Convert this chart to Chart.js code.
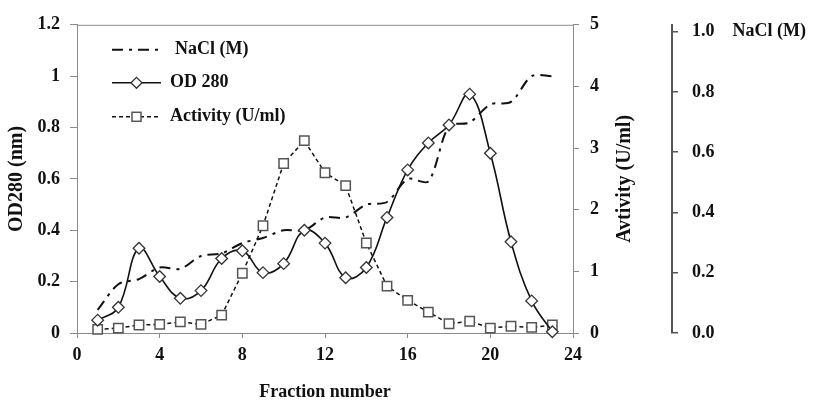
<!DOCTYPE html>
<html>
<head>
<meta charset="utf-8">
<script src="https://cdn.jsdelivr.net/npm/chart.js@4.4.1/dist/chart.umd.min.js"></script>
<style>
  body { margin: 0; background: #fff; }
  #wrap { width: 817px; height: 403px; position: relative; }
</style>
</head>
<body>
<div id="wrap"><canvas id="elutionChart"></canvas></div>
<script>
const fractions = [1, 2, 3, 4, 5, 6, 7, 8, 9, 10, 11, 12, 13, 14, 15, 16, 17, 18, 19, 20, 21, 22, 23];
const od280 = [0.05, 0.10, 0.33, 0.22, 0.135, 0.165, 0.29, 0.32, 0.235, 0.27, 0.40, 0.35, 0.215, 0.255, 0.45, 0.635, 0.74, 0.81, 0.93, 0.70, 0.355, 0.125, 0.005];
const activity = [0.06, 0.08, 0.13, 0.14, 0.18, 0.14, 0.29, 0.97, 1.74, 2.75, 3.12, 2.6, 2.39, 1.46, 0.76, 0.53, 0.34, 0.15, 0.19, 0.08, 0.11, 0.09, 0.13];
const nacl = [0.09, 0.19, 0.21, 0.255, 0.25, 0.30, 0.31, 0.35, 0.37, 0.40, 0.40, 0.45, 0.45, 0.50, 0.51, 0.60, 0.59, 0.805, 0.82, 0.89, 0.90, 1.0, 1.0];
const naclTicks = [0, 0.2, 0.4, 0.6, 0.8, 1.0];

const legendLabels = ['NaCl (M)', 'OD 280', 'Activity (U/ml)'];
const rightTitle = 'Avtivity (U/ml)';

const axisGray = '#8a8a8a';
const textColor = '#111';
const tickFont = { family: 'Liberation Serif', size: 18, weight: 'bold' };
const naclDash = [11, 6, 3, 6];

const toPoints = (vals) => fractions.map((f, i) => ({ x: f, y: vals[i] }));

// legende dans la zone du graphique + titre de droite (lu de bas en haut) + cadre du haut
const innerLegend = {
    id: 'innerLegend',
    afterDraw(chart) {
        const ctx = chart.ctx;
        const area = chart.chartArea;
        ctx.save();

        ctx.strokeStyle = axisGray;
        ctx.lineWidth = 1;
        ctx.beginPath();
        ctx.moveTo(area.left, area.top + 0.5);
        ctx.lineTo(area.right, area.top + 0.5);
        ctx.stroke();

        const x0 = area.left + 35;
        const x1 = area.left + 84;
        const rows = [
            { y: area.top + 25, dash: naclDash, mark: null, tx: area.left + 98 },
            { y: area.top + 58, dash: [], mark: 'diamond', tx: area.left + 93 },
            { y: area.top + 92, dash: [4, 3], mark: 'square', tx: area.left + 93 }
        ];
        rows.forEach((r, i) => {
            ctx.strokeStyle = '#111';
            ctx.lineWidth = i === 0 ? 2 : 1.5;
            ctx.setLineDash(r.dash);
            ctx.beginPath();
            ctx.moveTo(x0, r.y);
            ctx.lineTo(x1, r.y);
            ctx.stroke();
            ctx.setLineDash([]);
            const mx = (x0 + x1) / 2;
            if (r.mark === 'diamond') {
                ctx.fillStyle = '#fff';
                ctx.strokeStyle = '#333';
                ctx.lineWidth = 1.3;
                ctx.beginPath();
                ctx.moveTo(mx - 5.5, r.y);
                ctx.lineTo(mx, r.y - 5.5);
                ctx.lineTo(mx + 5.5, r.y);
                ctx.lineTo(mx, r.y + 5.5);
                ctx.closePath();
                ctx.fill();
                ctx.stroke();
            } else if (r.mark === 'square') {
                ctx.fillStyle = '#fff';
                ctx.strokeStyle = '#555';
                ctx.lineWidth = 1.5;
                ctx.fillRect(mx - 4.5, r.y - 4.5, 9, 9);
                ctx.strokeRect(mx - 4.5, r.y - 4.5, 9, 9);
            }
            ctx.fillStyle = textColor;
            ctx.font = 'bold 18px "Liberation Serif"';
            ctx.textAlign = 'left';
            ctx.textBaseline = 'middle';
            ctx.fillText(legendLabels[i], r.tx, r.y);
        });

        const y1 = chart.scales.y1;
        ctx.translate(y1.left + 52, (area.top + area.bottom) / 2);
        ctx.rotate(-Math.PI / 2);
        ctx.font = 'bold 20px "Liberation Serif"';
        ctx.textAlign = 'center';
        ctx.textBaseline = 'middle';
        ctx.fillStyle = textColor;
        ctx.fillText(rightTitle, 0, 0);
        ctx.restore();
    }
};

const elutionCtx = document.getElementById('elutionChart').getContext('2d');

const elutionChart = new Chart(elutionCtx, {
    type: 'line',
    data: {
        datasets: [
            {
                label: legendLabels[1],
                data: toPoints(od280),
                yAxisID: 'y',
                borderColor: '#111',
                borderWidth: 1.6,
                tension: 0.4,
                pointStyle: 'rectRot',
                pointRadius: 5.8,
                pointBackgroundColor: '#fff',
                pointBorderColor: '#333',
                pointBorderWidth: 1.3,
                clip: false
            },
            {
                label: legendLabels[2],
                data: toPoints(activity),
                yAxisID: 'y1',
                borderColor: '#111',
                borderWidth: 1.5,
                borderDash: [4, 3],
                tension: 0,
                pointStyle: 'rect',
                pointRadius: 6.6,
                pointBackgroundColor: '#fff',
                pointBorderColor: '#555',
                pointBorderWidth: 1.5,
                clip: false
            },
            {
                label: legendLabels[0],
                data: toPoints(nacl),
                yAxisID: 'y',
                borderColor: '#111',
                borderWidth: 2,
                borderDash: naclDash,
                tension: 0.3,
                pointRadius: 0,
                clip: false
            }
        ]
    },
    options: {
        responsive: true,
        maintainAspectRatio: false,
        animation: false,
        layout: { padding: { top: 23, right: 0, bottom: 0, left: 0 } },
        plugins: {
            legend: { display: false },
            tooltip: { enabled: false }
        },
        scales: {
            x: {
                type: 'linear',
                min: 0,
                max: 24,
                ticks: { stepSize: 4, color: textColor, font: tickFont, padding: 7 },
                grid: { drawOnChartArea: false, tickLength: 5, color: axisGray },
                border: { color: axisGray, width: 1 },
                title: {
                    display: true,
                    text: 'Fraction number',
                    color: textColor,
                    font: { family: 'Liberation Serif', size: 18, weight: 'bold' },
                    padding: { top: 0, bottom: 0 }
                },
                afterFit: (scale) => { scale.height = 70; }
            },
            y: {
                position: 'left',
                min: 0,
                max: 1.2,
                ticks: {
                    stepSize: 0.2,
                    color: textColor,
                    font: tickFont,
                    padding: 10,
                    callback: (v) => String(Number(Number(v).toFixed(1)))
                },
                grid: { drawOnChartArea: false, tickLength: 7, color: axisGray },
                border: { color: axisGray, width: 1 },
                title: {
                    display: true,
                    text: 'OD280 (nm)',
                    color: textColor,
                    font: { family: 'Liberation Serif', size: 20, weight: 'bold' },
                    padding: { top: 5, bottom: 0 }
                },
                afterFit: (scale) => { scale.width = 77; }
            },
            y1: {
                position: 'right',
                min: 0,
                max: 5,
                ticks: { stepSize: 1, color: textColor, font: tickFont, padding: 11 },
                grid: { drawOnChartArea: false, tickLength: 6, color: axisGray },
                border: { color: axisGray, width: 1 },
                afterFit: (scale) => { scale.width = 99; }
            },
            yNaCl: {
                position: 'right',
                min: 0,
                max: 1.023,
                afterBuildTicks: (scale) => {
                    scale.ticks = naclTicks.map(v => ({ value: v }));
                },
                ticks: {
                    color: textColor,
                    font: tickFont,
                    padding: 14,
                    callback: (v) => Math.abs(v - 1) < 1e-6 ? '1.0    NaCl (M)' : Number(v).toFixed(1)
                },
                grid: { drawOnChartArea: false, tickLength: 6, color: '#555', lineWidth: 1.5 },
                border: { color: '#555', width: 2 },
                afterFit: (scale) => { scale.width = 145; }
            }
        }
    },
    plugins: [innerLegend]
});
</script>
</body>
</html>
